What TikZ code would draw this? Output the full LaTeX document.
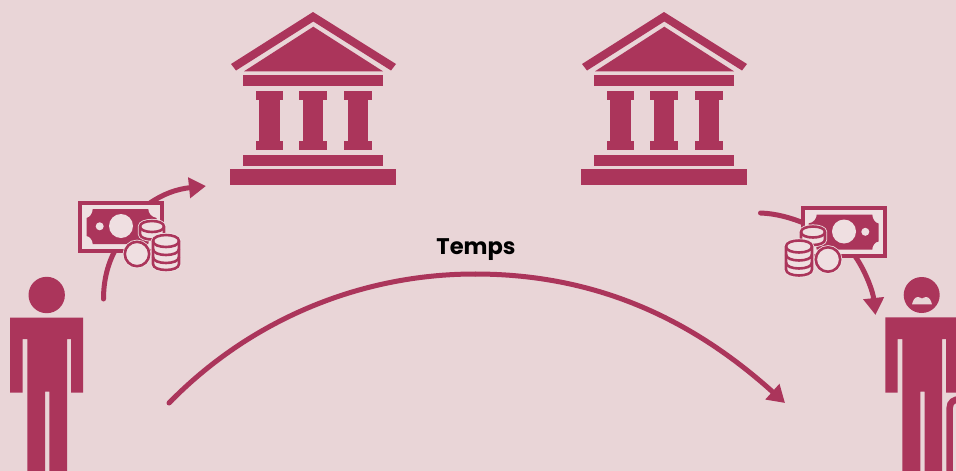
\documentclass[tikz,border=0pt]{standalone}
\usepackage{fontspec}
\setmainfont{Poppins}
\usetikzlibrary{arrows.meta}
\definecolor{bgc}{HTML}{E9D5D7}
\definecolor{wine}{HTML}{AB355B}
\definecolor{pale}{HTML}{EFDFE1}
\tikzset{
  flow/.style={draw=wine,line width=5pt,line cap=round},
  tip/.style={-{Triangle[length=17pt,width=20pt]}},
  coinline/.style={draw=wine,line width=2.6pt,fill=pale},
  halo/.style={draw=pale,line width=4.2pt,fill=pale},
}
\newcommand{\bankicon}{%
  \fill[wine] (313,12) -- (396,64) -- (391,70.5) -- (313.3,21.5) -- (236,70.5) -- (231,64) -- cycle;
  \fill[wine] (313.3,26.7) -- (383,71.3) -- (244,71.3) -- cycle;
  \fill[wine] (243,75) rectangle (383,86);
  \foreach \c in {269.4,313,357.8}{
    \fill[wine] (\c-13.7,91.3) rectangle (\c+13.7,100);
    \fill[wine] (\c-10.3,100) rectangle (\c+10.3,141);
    \fill[wine] (\c-13.7,141) rectangle (\c+13.7,150);
  }
  \fill[wine] (243,155) rectangle (383,165.7);
  \fill[wine] (230,169) rectangle (396,185);
}
% stack body: #1 centre x, #2 top y, #3 rx, #4 ry, #5 height, #6 style
\newcommand{\stackbody}[6]{%
  \path[#6] ({#1-#3},#2) -- ({#1-#3},{#2+#5})
    .. controls ({#1-#3},{#2+#5+1.33*#4}) and ({#1+#3},{#2+#5+1.33*#4}) .. ({#1+#3},{#2+#5})
    -- ({#1+#3},#2)
    .. controls ({#1+#3},{#2-1.33*#4}) and ({#1-#3},{#2-1.33*#4}) .. ({#1-#3},#2) -- cycle;
}
\newcommand{\stackband}[4]{%
  \draw[draw=wine,line width=2.6pt] ({#1-#3},#2)
    .. controls ({#1-#3},{#2+1.33*#4}) and ({#1+#3},{#2+1.33*#4}) .. ({#1+#3},#2);
}
\newcommand{\moneyicon}{%
  \draw[draw=wine,line width=4pt,fill=pale] (80,202.7) rectangle (162,250.7);
  \fill[wine] (92.7,209) -- (148.3,209)
     .. controls (148.3,213) and (151,217) .. (156.5,218)
     -- (156.5,235)
     .. controls (151,236) and (148.3,240) .. (148.3,244)
     -- (92.7,244)
     .. controls (92.7,240) and (90,236.5) .. (86.5,236)
     -- (86.5,218)
     .. controls (90,217.5) and (92.7,213) .. (92.7,209) -- cycle;
  \fill[pale] (121,226) circle (12);
  \fill[pale] (99.7,226.3) circle (4);
  % small stack
  \stackbody{152}{226.5}{12}{5.5}{7.5}{halo}
  \stackbody{152}{226.5}{12}{5.5}{7.5}{coinline}
  \stackband{152}{226.5}{12}{5.5}
  % big stack
  \stackbody{166}{241}{13}{6}{23}{halo}
  \stackbody{166}{241}{13}{6}{23}{coinline}
  \foreach \y in {241,249,257}{\stackband{166}{\y}{13}{6}}
  % single coin
  \draw[halo] (137,254) circle (12.2);
  \draw[coinline] (137,254) circle (12.2);
}
\begin{document}
\begin{tikzpicture}[x=1pt,y=-1pt]
  \path[use as bounding box,fill=bgc] (0,0) rectangle (956,471);
  \begin{scope}\clip (0,0) rectangle (956,471);
  % banks
  \bankicon
  \begin{scope}[shift={(351,0)}]\bankicon\end{scope}
  % flows behind the money
  \coordinate (ldepart) at (103.5,299);
  \coordinate (lup) at (117,247);
  \coordinate (lstart) at (150,203);
  \coordinate (lbank) at (206,186);
  \coordinate (rbank) at (760.5,213);
  \coordinate (rin) at (806,224);
  \coordinate (rout) at (855,256);
  \coordinate (rperson) at (875.5,315);
  \coordinate (arcstart) at (169,403);
  \coordinate (arctop) at (475,274);
  \coordinate (arcend) at (785,403);
  \draw[flow] (ldepart) .. controls (103.5,280) and (108,262) .. (lup);
  \draw[flow,line cap=butt,tip] (lstart) .. controls (163,194) and (177,189) .. (lbank);
  \draw[flow] (rbank) .. controls (776,213.5) and (792,218) .. (rin);
  \draw[flow,line cap=butt,tip] (rout) .. controls (866,272) and (873,292) .. (rperson);
  \draw[flow] (arcstart) .. controls (250,320) and (360,274) .. (arctop);
  \draw[flow,line cap=butt,tip] (arctop) .. controls (600,274) and (695,322) .. (arcend);
  % money
  \moneyicon
  \begin{scope}[shift={(965,5.5)},xscale=-1]\moneyicon\end{scope}
  % left person
  \fill[wine] (46.7,295) circle (18.2);
  \fill[wine] (10,317.7) -- (83,317.7) -- (83,392.7) -- (71,392.7) -- (71,339) -- (67,339) -- (67,471) -- (49.3,471) -- (49.3,391.7) -- (45,391.7) -- (45,471) -- (27.3,471) -- (27.3,339) -- (22.7,339) -- (22.7,392.7) -- (10,392.7) -- cycle;
  % right person
  \fill[wine] (921.7,295) circle (18);
  \fill[bgc] (912,304.4) .. controls (913,300) and (915,297) .. (918,297) .. controls (920,297) and (921,298.5) .. (922,298.5) .. controls (923,298.5) and (924,297) .. (926,297) .. controls (929,297) and (931,300) .. (932,304.4) -- cycle;
  \fill[wine] (885.3,317.3) -- (958,317.3) -- (958,392.7) -- (946,392.7) -- (946,339) -- (942,339) -- (942,471) -- (924.7,471) -- (924.7,391.7) -- (920.3,391.7) -- (920.3,471) -- (902.3,471) -- (902.3,339) -- (897.7,339) -- (897.7,392.7) -- (885.3,392.7) -- cycle;
  \draw[draw=wine,line width=6.5pt] (949.7,472) -- (949.7,408) .. controls (949.7,402) and (954,399.2) .. (960,399.2);
  \end{scope}
  \node[font=\fontsize{22.6}{24}\selectfont\bfseries,text=black,inner sep=0pt,anchor=base] (temps) at (476,254) {Temps};
\end{tikzpicture}
\end{document}
